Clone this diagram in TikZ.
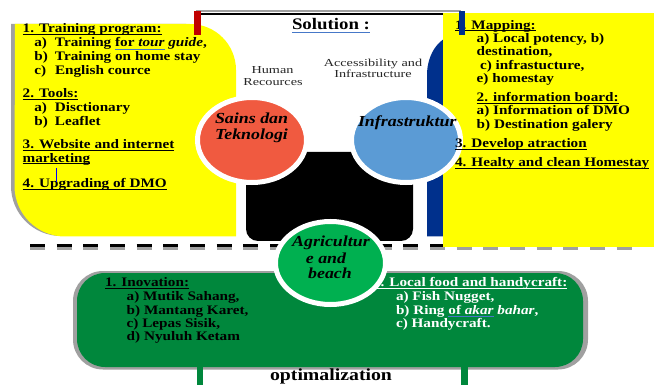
\documentclass[tikz,border=0pt]{standalone}
\usepackage{fontspec}
\setmainfont{Liberation Serif}[FakeStretch=1.17]
\newfontfamily\widefont{Liberation Serif}[FakeStretch=1.33]
\definecolor{ulblue}{RGB}{70,120,200}
\definecolor{yel}{RGB}{255,255,0}
\definecolor{redc}{RGB}{240,90,64}
\definecolor{bluec}{RGB}{91,155,213}
\definecolor{greenc}{RGB}{0,176,80}
\definecolor{greenbox}{RGB}{0,135,60}
\definecolor{navy}{RGB}{0,48,140}
\definecolor{darkred}{RGB}{192,0,0}
\definecolor{shadow}{RGB}{160,160,160}
\newsavebox{\myulbox}
\newcommand{\hd}[1]{\leavevmode\sbox{\myulbox}{#1}\rlap{\rule[-1.8pt]{\wd\myulbox}{0.9pt}}\usebox{\myulbox}}
\newcommand{\blueul}[1]{\leavevmode\sbox{\myulbox}{#1}\rlap{\textcolor{ulblue}{\rule[-2.8pt]{\wd\myulbox}{1pt}}}\usebox{\myulbox}}
\newcommand{\itm}[2]{\makebox[#1][l]{#2}}
\tikzset{
  t/.style={inner sep=0pt, outer sep=0pt, anchor=base west, font=\fontsize{13}{14}\selectfont\bfseries},
  tw/.style={t, text=white},
  circlbl/.style={inner sep=0pt, outer sep=0pt, anchor=base west, font=\fontsize{15.3}{16}\selectfont\bfseries\itshape},
  small/.style={inner sep=0pt, outer sep=0pt, anchor=base, text=black!85, font=\widefont\fontsize{10.7}{12}\selectfont},
  ring/.style={draw=white, line width=5pt},
}
\begin{document}
\begin{tikzpicture}[x=1pt, y=-1pt]
\useasboundingbox (0,0) rectangle (654,385);
\fill[white] (0,0) rectangle (654,385);

% left yellow panel with shadow
\fill[shadow] (11,24) -- (186,24) arc[start angle=270,end angle=360,radius=46] -- (232,236) -- (61,236) arc[start angle=90,end angle=180,radius=50] -- cycle;
\fill[yel] (15,24) -- (190,24) arc[start angle=270,end angle=360,radius=46] -- (236,236.5) -- (65,236.5) arc[start angle=90,end angle=180,radius=50.5] -- cycle;

% top frame
\draw[shadow, line width=1.5pt] (196,10.8) -- (461,10.8);
\draw[black, line width=2.2pt] (196,13.8) -- (461,13.8);
\fill[darkred] (194,11.5) rectangle (200.5,35);

% black shape
\fill[black, rounded corners=12pt] (246,152) rectangle (413,241);

% dashed separator
\draw[black, line width=3pt, dash pattern=on 15pt off 11.67pt] (30,245.6) -- (632,245.6);
\draw[shadow, line width=2.8pt, dash pattern=on 15pt off 11.67pt] (30,248.7) -- (632,248.7);

% blue shape and right yellow panel
\fill[navy] (427,236.5) -- (427,75) arc[start angle=180,end angle=270,x radius=30,y radius=40] -- (600,35) -- (600,236.5) -- cycle;
\fill[yel] (443,13.3) rectangle (654,247.2);

% green box
\fill[shadow, rounded corners=30pt] (73,271) rectangle (588,369.5);
\fill[greenbox, rounded corners=28pt] (77,273) rectangle (583,367);
\draw[greenbox, line width=6pt] (199.7,366) -- (199.7,385);
\draw[greenbox, line width=6.5pt] (464.5,366) -- (464.5,385);

% circles
\filldraw[fill=redc, ring] (252,140) ellipse [x radius=54.5, y radius=42.5];
\filldraw[fill=bluec, ring] (406,140) ellipse [x radius=54.5, y radius=42.5];

% headings
\node[inner sep=0pt, anchor=base, font=\fontsize{16.1}{17}\selectfont\bfseries] (sol) at (331,30) {\blueul{Solution :}};
\node[small] (hr1) at (272.5,74) {Human};
\node[small] (hr2) at (273,86) {Recources};
\node[small] (ai1) at (373,67) {Accessibility and};
\node[small] (ai2) at (373,78) {Infrastructure};

% left panel text
\node[t] (l1) at (22.7,33) {\hd{1. Training program:}};
\node[t] (l2) at (34.3,46.8) {\itm{20.7pt}{a)}Training \blueul{for {\itshape tour}} {\itshape guide},};
\node[t] (l3) at (34.3,60.6) {\itm{20.7pt}{b)}Training on home stay};
\node[t] (l4) at (34.3,74.4) {\itm{20.7pt}{c)}English cource};
\node[t] (l5) at (22.7,97.7) {\hd{2. Tools:}};
\node[t] (l6) at (34.3,111.7) {\itm{20.7pt}{a)}Disctionary};
\node[t] (l7) at (34.3,125.3) {\itm{20.7pt}{b)}Leaflet};
\node[t] (l8) at (22.7,149) {\hd{3. Website and internet}};
\node[t] (l9) at (22.7,162.3) {\hd{marketing}};
\node[t] (l10) at (22.7,187.7) {\hd{4. Upgrading of DMO}};
\draw[blue, line width=0.8pt] (56,168) -- (56,182);

% right panel text
\node[t] (r1) at (455,29.3) {\hd{1. Mapping:}};
\node[t] (r2) at (476.7,42.7) {a) Local potency, b)};
\node[t] (r3) at (476.7,56) {destination,};
\node[t] (r4) at (480,69.3) {c) infrastucture,};
\node[t] (r5) at (476.7,82.7) {e) homestay};
\node[t] (r6) at (476.7,101.7) {\hd{2. information board:}};
\node[t] (r7) at (476.7,115) {a) Information of DMO};
\node[t] (r8) at (476.7,128.3) {b) Destination galery};
\node[t] (r9) at (455,147.7) {\hd{3. Develop atraction}};
\node[t] (r10) at (455,166.7) {\hd{4. Healty and clean Homestay}};
\fill[navy] (459,11.5) rectangle (465,35);

% green box text
\node[t] (g1) at (105,286.7) {\hd{1. Inovation:}};
\node[t] (g2) at (126.7,300.7) {a) Mutik Sahang,};
\node[t] (g3) at (126.7,314) {b) Mantang Karet,};
\node[t] (g4) at (126.7,327.3) {c) Lepas Sisik,};
\node[t] (g5) at (126.7,340.7) {d) Nyuluh Ketam};
\node[tw] (h1) at (373,286.7) {\hd{1. Local food and handycraft:}};
\node[tw] (h2) at (396,300.7) {a) Fish Nugget,};
\node[tw] (h3) at (396,314) {b) Ring \blueul{of {\itshape akar}} {\itshape bahar},};
\node[tw] (h4) at (396,327.3) {c) Handycraft.};

% green circle
\filldraw[fill=greenc, ring] (330.5,263) ellipse [x radius=55, y radius=41.5];

% circle labels
\node[circlbl] (st1) at (215,124) {Sains dan};
\node[circlbl] (st2) at (215,140) {Teknologi};
\node[circlbl] (inf) at (358,127) {Infrastruktur};
\node[circlbl, anchor=base] (ag1) at (331,247) {Agricultur};
\node[circlbl, anchor=base] (ag2) at (326,263) {e and};
\node[circlbl, anchor=base] (ag3) at (330,279) {beach};

\node[inner sep=0pt, anchor=base, font=\fontsize{16.9}{18}\selectfont\bfseries] (opt) at (331,380) {optimalization};
\end{tikzpicture}
\end{document}
